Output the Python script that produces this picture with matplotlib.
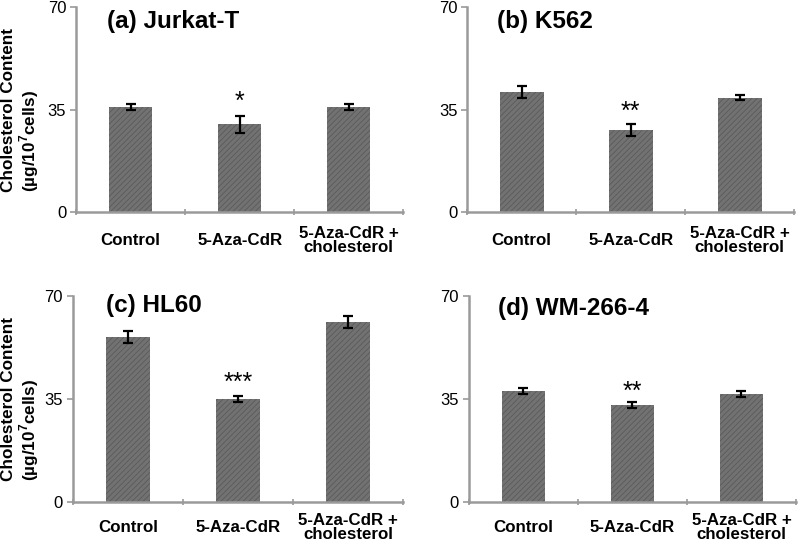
import matplotlib
matplotlib.use("Agg")
import matplotlib.pyplot as plt
import numpy as np

plt.rcParams['font.family'] = ['Liberation Sans', 'DejaVu Sans']
plt.rcParams['mathtext.fontset'] = 'custom'
plt.rcParams['mathtext.rm'] = 'Liberation Sans'
plt.rcParams['mathtext.bf'] = 'Liberation Sans:bold'
plt.rcParams['hatch.linewidth'] = 0.6

categories = ["Control", "5-Aza-CdR", "5-Aza-CdR +\ncholesterol"]
titles = ["(a) Jurkat-T", "(b) K562", "(c) HL60", "(d) WM-266-4"]
values_a = [35.8, 29.9, 35.8]
errors_a = [1.0, 3.0, 1.0]
values_b = [41.0, 28.0, 39.1]
errors_b = [2.2, 2.1, 1.0]
values_c = [56.2, 35.1, 61.2]
errors_c = [2.0, 1.0, 2.0]
values_d = [38.0, 33.1, 36.9]
errors_d = [1.0, 1.0, 1.1]
stars = ["*", "**", "***", "**"]
star_y = [33.4, 30.2, 36.5, 33.5]
yticks = [0, 35, 70]
ylabel = "Cholesterol Content\n(µg/10$^{\\mathbf{7}}$cells)"

fig = plt.figure(figsize=(8, 5.45), dpi=100)
positions = [
    [0.095, 0.611, 0.409, 0.376],
    [0.584, 0.611, 0.409, 0.376],
    [0.091, 0.078, 0.413, 0.378],
    [0.586, 0.078, 0.409, 0.378],
]
title_pos = [(0.095, 65), (0.092, 65), (0.10, 67), (0.088, 66)]
label_pad = [20.5, 20.5, 18.0, 18.0]
allvals = [values_a, values_b, values_c, values_d]
allerrs = [errors_a, errors_b, errors_c, errors_d]

for i in range(4):
    ax = fig.add_axes(positions[i])
    x = np.arange(len(categories))
    ax.bar(x, allvals[i], width=0.4, color='#727272', edgecolor='#5a5a5a',
           hatch='//////', linewidth=0, zorder=2)
    ax.errorbar(x, allvals[i], yerr=allerrs[i], fmt='none', ecolor='black',
                elinewidth=1.6, capsize=3.5, capthick=1.6, zorder=3)
    ax.text(1, star_y[i], stars[i], ha='center', va='bottom', fontsize=18)
    ax.set_xlim(-0.5, 2.5)
    ax.set_ylim(0, 70)
    ax.set_yticks(yticks)
    ax.set_yticklabels([str(v) for v in yticks], fontsize=12)
    ax.set_xticks(x)
    ax.set_xticklabels(categories, fontsize=12.2, fontweight='bold', va='center',
                       linespacing=0.98)
    ax.tick_params(axis='x', length=0, pad=label_pad[i])
    ax.set_xticks([-0.5, 0.5, 1.5, 2.5], minor=True)
    ax.tick_params(axis='x', which='minor', length=5, direction='inout',
                   color='#999999', width=1.2)
    ax.tick_params(axis='y', length=4, width=1.2, color='#999999', pad=3)
    for s in ['top', 'right']:
        ax.spines[s].set_visible(False)
    for s in ['left', 'bottom']:
        ax.spines[s].set_color('#9a9a9a')
        ax.spines[s].set_linewidth(1.8)
    ax.text(title_pos[i][0], title_pos[i][1] / 70.0, titles[i], transform=ax.transAxes,
            fontsize=17.5, fontweight='bold', va='center', ha='left')
    if i in (0, 2):
        p = positions[i]
        fig.text(1.0 / 800, p[1] + p[3] / 2, ylabel, rotation=90,
                 ha='left', va='center', fontsize=12.3, fontweight='bold',
                 linespacing=1.05)

fig.savefig("out.png", dpi=100)
